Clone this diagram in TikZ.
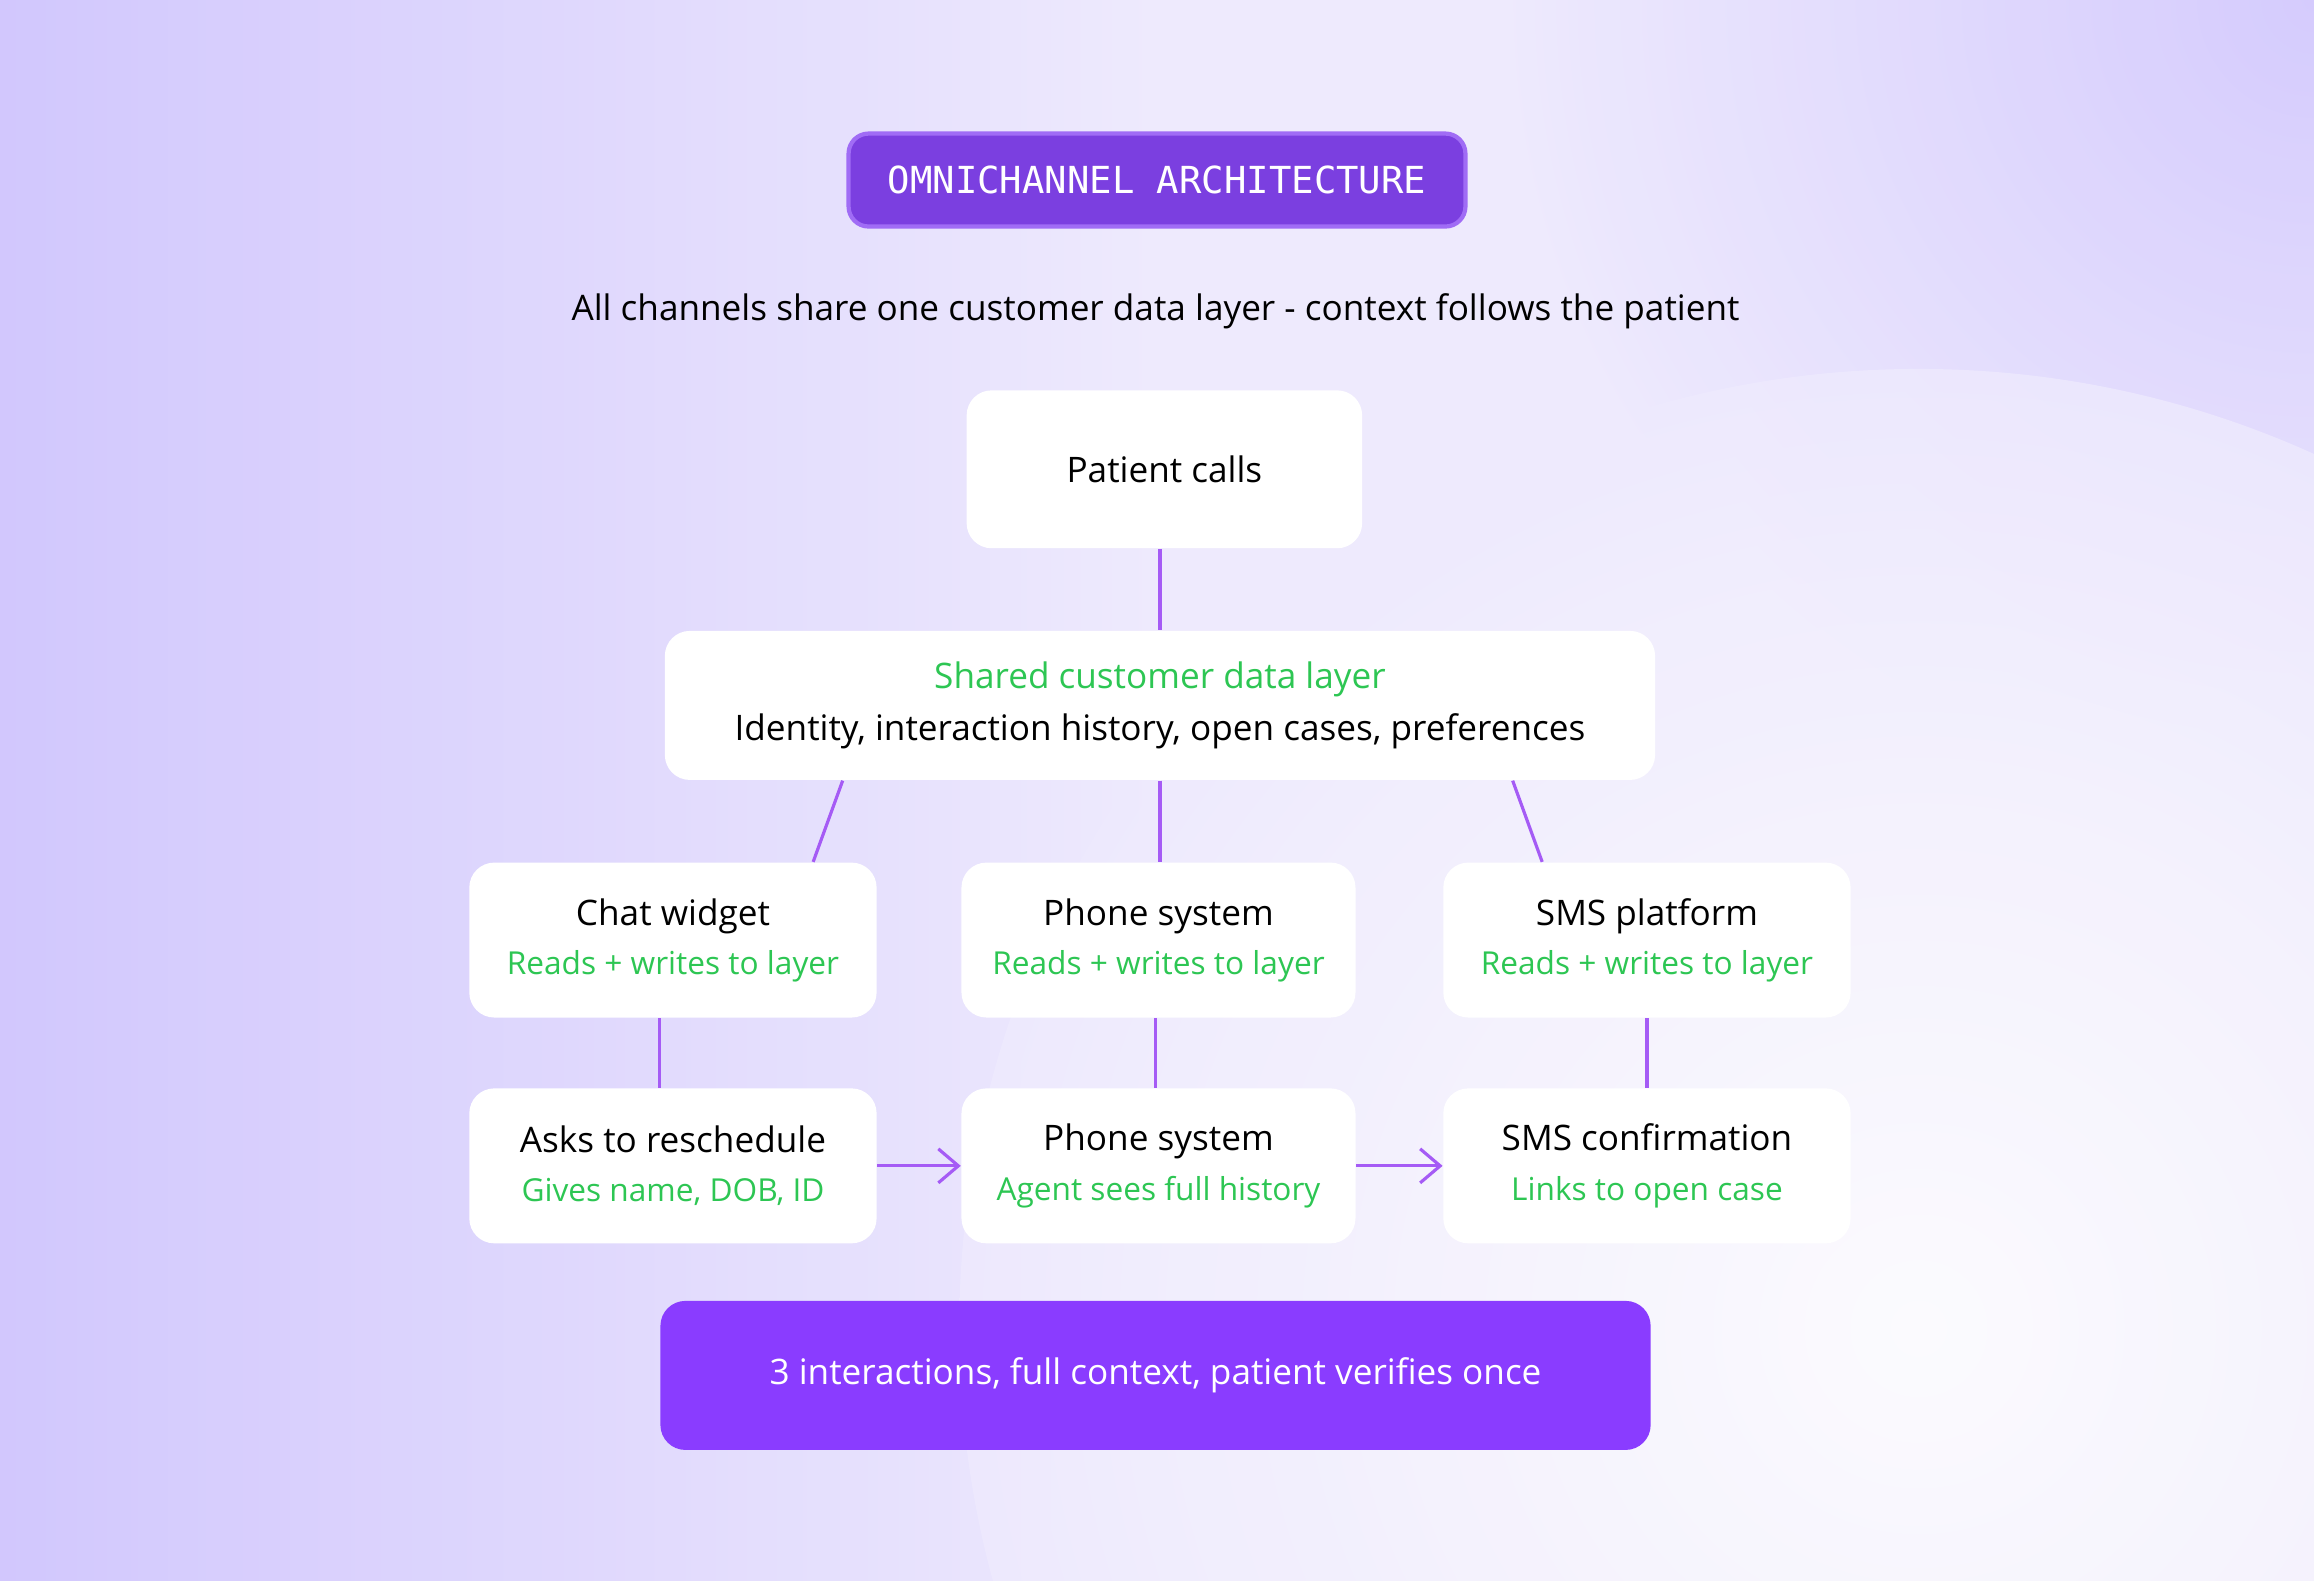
\documentclass[tikz,border=0pt]{standalone}
\usepackage{fontspec}
\setmainfont{Open Sans}
\newfontfamily\monofont{DejaVu Sans Mono}
\usetikzlibrary{positioning, arrows.meta}
\definecolor{bgPurple}{HTML}{CFC4FD}
\definecolor{bgLight}{HTML}{EEEAFD}
\definecolor{titleFill}{HTML}{7B3FE0}
\definecolor{titleEdge}{HTML}{A06CF5}
\definecolor{linePurple}{HTML}{A55BF5}
\definecolor{okGreen}{HTML}{2DC653}
\definecolor{bannerFill}{HTML}{8A3CFF}
\def\px{0.01476cm}
\newcommand\subline[1]{{\color{okGreen}\fontsize{9}{12}\selectfont #1}}
\tikzset{
    >={Straight Barb[length=2mm,width=3.4mm]}, % open arrow heads
    card/.style={fill=white, rounded corners=2.5mm, align=center, font=\fontsize{10}{15}\selectfont},
    cardSmall/.style={card, minimum width=276*\px, minimum height=105*\px},
    link/.style={draw=linePurple, line width=0.9pt},
}
\begin{document}
\begin{tikzpicture}[x=\px, y=-\px]
    % background
    \useasboundingbox (0,0) rectangle (1568,1071);
    \fill[bgLight] (0,0) rectangle (1568,1071);
    \shade[left color=bgPurple, right color=bgLight, opacity=0.9] (0,0) rectangle (784,1071);
    \begin{scope}
        \clip (0,0) rectangle (1568,1071);
        \shade[inner color=bgPurple, outer color=bgLight, opacity=0.8] (1568,0) circle (550);
        \shade[inner color=white, outer color=bgLight, opacity=0.8] (1300,900) circle (650);
    \end{scope}

    \node[fill=titleFill, draw=titleEdge, line width=1.2pt, rounded corners=2mm,
          minimum width=418*\px, minimum height=63*\px, text=white,
          font=\monofont\fontsize{10.6}{14}\selectfont] (title) at (784,122) {OMNICHANNEL ARCHITECTURE};
    \node[font=\fontsize{10}{12}\selectfont] (subtitle) at (783,211)
        {All channels share one customer data layer - context follows the patient};

    \node[card, minimum width=268*\px, minimum height=107*\px] (calls) at (789,318) {Patient calls};
    \node[card, minimum width=671*\px, minimum height=101*\px] (layer) at (786,478)
        {\textcolor{okGreen}{Shared customer data layer}\\Identity, interaction history, open cases, preferences};

    \node[cardSmall] (chat) at (456,637) {Chat widget\\[-1pt]\subline{Reads + writes to layer}};
    \node[cardSmall, minimum width=267*\px] (phone) at (785,637) {Phone system\\[-1pt]\subline{Reads + writes to layer}};
    \node[cardSmall] (sms) at (1116,637) {SMS platform\\[-1pt]\subline{Reads + writes to layer}};

    \node[cardSmall] (ask) at (456,790) {Asks to reschedule\\[-1pt]\subline{Gives name, DOB, ID}};
    \node[cardSmall, minimum width=267*\px] (agent) at (785,790) {Phone system\\[-1pt]\subline{Agent sees full history}};
    \node[cardSmall] (confirm) at (1116,790) {SMS confirmation\\[-1pt]\subline{Links to open case}};

    \node[fill=bannerFill, rounded corners=2.5mm, minimum width=671*\px, minimum height=101*\px,
          text=white, font=\fontsize{10}{12}\selectfont] (banner) at (783,932)
        {3 interactions, full context, patient verifies once};

    \draw[link] (calls.south -| 786,0) -- (layer.north -| 786,0);
    \draw[link] (layer.south -| 571,0) -- (chat.north -| 551,0);
    \draw[link] (layer.south -| 786,0) -- (phone.north -| 786,0);
    \draw[link] (layer.south -| 1025,0) -- (sms.north -| 1045,0);
    \draw[link] (chat.south -| 447,0) -- (ask.north -| 447,0);
    \draw[link] (phone.south -| 783,0) -- (agent.north -| 783,0);
    \draw[link] (sms.south -| 1116,0) -- (confirm.north -| 1116,0);
    \draw[link, ->] (ask) -- (agent);
    \draw[link, ->] (agent) -- (confirm);
\end{tikzpicture}
\end{document}
